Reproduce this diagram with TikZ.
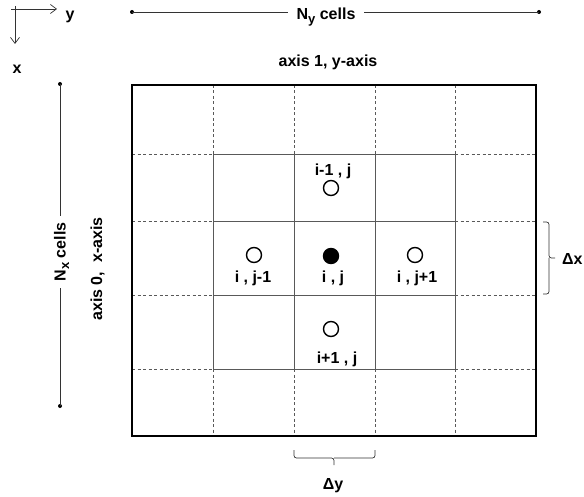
\documentclass[tikz,border=0pt]{standalone}
\usepackage{fontspec}
\setmainfont{Liberation Sans}
\usetikzlibrary{arrows.meta}
\newcommand{\lowsub}[1]{\raisebox{-3.5pt}{\fontsize{13}{13}\selectfont #1}}
\begin{document}
\begin{tikzpicture}[x=1pt,y=-1pt,
  lbl/.style={font=\bfseries\fontsize{16}{18}\selectfont, inner sep=0pt},
  gridsolid/.style={draw=black!65, line width=0.9pt},
  griddash/.style={draw=black!65, line width=0.7pt, dash pattern=on 3pt off 2.5pt},
  cellpt/.style={circle, draw, line width=1.4pt, minimum size=15pt, inner sep=0pt},
  endpt/.style={circle, fill, inner sep=0pt, minimum size=4pt},
  dimline/.style={draw=black!80, line width=0.7pt},
  axarrow/.style={draw=black!80, line width=0.7pt, -{Straight Barb[length=6pt,width=9pt]}},
  bracestyle/.style={draw=black!80, line width=0.7pt, rounded corners=2.5pt}
]
\useasboundingbox (0,0) rectangle (584,497);

% coordinate axes
\coordinate (hx0) at (11,9);
\coordinate (hx1) at (57,9);
\coordinate (vx0) at (15,6);
\coordinate (vx1) at (15,44);
\draw[axarrow] (hx0) -- (hx1);
\draw[axarrow] (vx0) -- (vx1);
\node[lbl, anchor=base] (ylab) at (70,19.5) {y};
\node[lbl, anchor=base] (xlab) at (17,74) {x};

% N_y cells dimension
\node[endpt] (ny1) at (132,12) {};
\node[endpt] (ny2) at (539,12) {};
\node[lbl, anchor=base, inner xsep=8pt] (ny) at (326,20) {N\lowsub{y} cells};
\draw[dimline] (ny1.center) -- (ny1 -| ny.west);
\draw[dimline] (ny2.center) -- (ny2 -| ny.east);
\node[lbl, anchor=base] (ax1) at (328,67) {axis 1, y-axis};

% N_x cells dimension
\node[endpt] (nx1) at (60,84) {};
\node[endpt] (nx2) at (60,406) {};
\node[lbl, rotate=90, anchor=base, inner xsep=6pt] (nx) at (65.5,252) {N\lowsub{x} cells};
\draw[dimline] (nx1.center) -- (nx1 |- nx.east);
\draw[dimline] (nx2.center) -- (nx2 |- nx.west);
\node[lbl, rotate=90, anchor=base] (ax0) at (102,269) {axis 0,\ \ x-axis};

% grid: dashed outer parts
\foreach \xx in {213,294,375,455} {
  \draw[griddash] (\xx,85) -- (\xx,154);
  \draw[griddash] (\xx,369) -- (\xx,436);
}
\foreach \yy in {154,221,295,369} {
  \draw[griddash] (132,\yy) -- (213,\yy);
  \draw[griddash] (455,\yy) -- (536,\yy);
}
% grid: solid inner parts
\foreach \xx in {213,294,375,455} {
  \draw[gridsolid] (\xx,154) -- (\xx,369);
}
\foreach \yy in {154,221,295,369} {
  \draw[gridsolid] (213,\yy) -- (455,\yy);
}
% outer boundary
\draw[line width=2pt] (132,85) rectangle (536,436);

% cell points
\node[cellpt] (up) at (331,188) {};
\node[cellpt, fill=black] (ctr) at (331,256) {};
\node[cellpt] (lft) at (254,255) {};
\node[cellpt] (rgt) at (415,255) {};
\node[cellpt] (dn) at (331,329) {};

\node[lbl, anchor=base] (uplab) at (333,176) {i-1 , j};
\node[lbl, anchor=base] (lftlab) at (253,283) {i , j-1};
\node[lbl, anchor=base] (ctrlab) at (333,283) {i , j};
\node[lbl, anchor=base] (rgtlab) at (417,283) {i , j+1};
\node[lbl, anchor=base] (dnlab) at (337,363) {i+1 , j};

% delta x brace
\coordinate (bx0) at (543,222);
\coordinate (bx1) at (543,294);
\coordinate (bxm) at (549,258);
\coordinate (bxt) at (555,258);
\draw[bracestyle] (bx0) -| (bxm) -- (bxt);
\draw[bracestyle] (bx1) -| (bxm);
\node[lbl, anchor=west] (dx) at (562,259) {Δx};

% delta y brace
\coordinate (by0) at (294,450);
\coordinate (by1) at (375,450);
\coordinate (bym) at (334,458);
\coordinate (byt) at (334,465);
\draw[bracestyle] (by0) |- (bym) -- (byt);
\draw[bracestyle] (by1) |- (bym);
\node[lbl, anchor=base] (dy) at (333,489) {Δy};
\end{tikzpicture}
\end{document}
